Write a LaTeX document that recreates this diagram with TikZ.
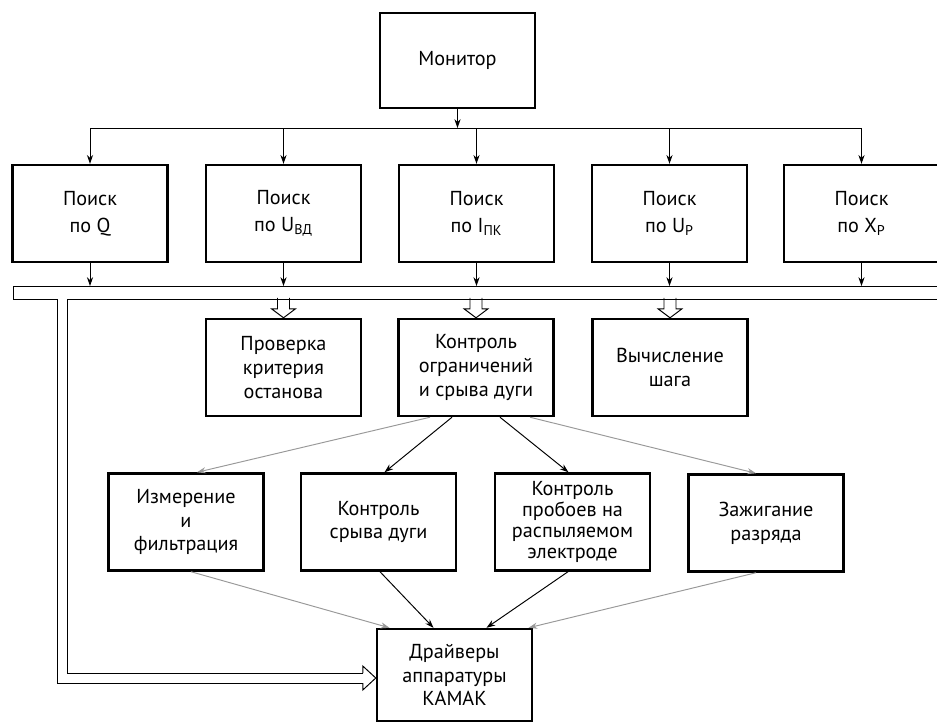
\documentclass[tikz,border=0pt]{standalone}
\usepackage{fontspec}
\setmainfont{PT Sans}
\usetikzlibrary{arrows.meta,calc}

\tikzset{
  block/.style={draw, line width=1.4pt, minimum width=3.1cm, minimum height=1.94cm,
    align=center, inner sep=2pt, font=\fontsize{11.5}{13.5}\selectfont},
  search/.style={block, font=\fontsize{11.5}{15.5}\selectfont},
  faint/.style={draw=black!40},
}
% hollow arrow from the bus down to a node
\newcommand{\hollowdown}[1]{%
  \fill[white] ($(#1.north)+(-5.5,-21)$) rectangle ($(#1.north)+(5.5,-19)$);
  \draw[line join=miter] ($(#1.north)+(-6,-20)$) -- ++(0,11) -- ++(-6,0) -- (#1.north)
    -- ++(12,-9) -- ++(-6,0) -- ++(0,-11);
}

\begin{document}
\begin{tikzpicture}[x=0.02cm, y=-0.02cm, >={Stealth[length=5pt,width=3.5pt]}, line width=0.55pt]
  \useasboundingbox (0,0) rectangle (937,725);

  \node[block, minimum height=1.9cm] (monitor) at (457.5,60.5) {Монитор};

  \node[search] (q)   at (90,213.5)    {Поиск\\по Q};
  \node[search] (ubd) at (283.5,213.5) {Поиск\\по U\textsubscript{ВД}};
  \node[search] (ipk) at (476.5,213.5) {Поиск\\по I\textsubscript{ПК}};
  \node[search] (up)  at (669.5,213.5) {Поиск\\по U\textsubscript{Р}};
  \node[search] (xp)  at (861.5,213.5) {Поиск\\по X\textsubscript{Р}};

  \node[block] (check)    at (283.5,367.5) {Проверка\\критерия\\останова};
  \node[block] (limits)   at (476,367.5)   {Контроль\\ограничений\\и срыва дуги};
  \node[block] (calcstep) at (670,367.5)   {Вычисление\\шага};

  \node[block] (meas)      at (186,522)   {Измерение\\и\\фильтрация};
  \node[block] (arcctl)    at (378.5,522) {Контроль\\срыва дуги};
  \node[block, font=\fontsize{11.5}{12}\selectfont] (breakdown) at (572.5,522) {Контроль\\пробоев на\\распыляемом\\электроде};
  \node[block] (ignite)    at (766,523)   {Зажигание\\разряда};

  \node[block, minimum height=1.84cm] (camac) at (454.5,675) {Драйверы\\аппаратуры\\КАМАК};

  % monitor to the search blocks
  \coordinate (split) at (457.5,128);
  \draw[->] (monitor) -- (split);
  \draw (q.north |- split) -- (xp.north |- split);
  \foreach \n in {q,ubd,ipk,up,xp}
    \draw[->] (\n.north |- split) -- (\n.north);

  % double bus
  \coordinate (bus) at (0,286);
  \foreach \n in {q,ubd,ipk,up,xp}
    \draw[->] (\n.south) -- (\n.south |- bus);
  \coordinate (tip) at ($(camac.west)+(0,3)$);
  \draw (945,286) -- (13,286) -- (13,299) -- (57,299) -- (57,683) -- ($(tip)+(-13,5)$);
  \draw (945,299) -- (67,299) -- (67,673) -- ($(tip)+(-13,-5)$);
  \draw[line join=miter] ($(tip)+(-13,-5)$) -- ++(0,-7) -- (tip) -- ($(tip)+(-13,12)$) -- ++(0,-7);
  \foreach \n in {check,limits,calcstep}
    \hollowdown{\n};

  % limits to the lower blocks
  \draw[->,faint] ($(limits.south)+(-46,0)$) -- ($(meas.north)+(11,0)$);
  \draw[->] ($(limits.south)+(-24,0)$) -- ($(arcctl.north)+(6,0)$);
  \draw[->] ($(limits.south)+(24,0)$) -- ($(breakdown.north)+(-4,0)$);
  \draw[->,faint] ($(limits.south)+(54,0)$) -- ($(ignite.north)+(-10,0)$);

  % lower blocks to the drivers
  \draw[->,faint] ($(meas.south)+(5,0)$) -- ($(camac.north)+(-65,0)$);
  \draw[->] ($(arcctl.south)+(1.5,0)$) -- ($(camac.north)+(-21,0)$);
  \draw[->] ($(breakdown.south)+(-4.5,0)$) -- ($(camac.north)+(32,0)$);
  \draw[->,faint] ($(ignite.south)+(-10,0)$) -- ($(camac.north)+(74,0)$);
\end{tikzpicture}
\end{document}
